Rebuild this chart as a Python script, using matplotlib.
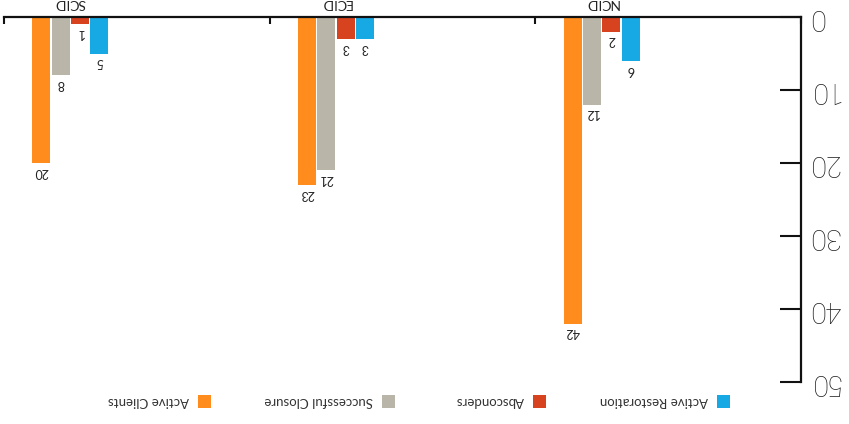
import matplotlib
matplotlib.use("Agg")
import matplotlib.pyplot as plt
from matplotlib.patches import Rectangle
import numpy as np

plt.rcParams['font.family'] = ['Lato', 'DejaVu Sans']

categories = ["NCID", "ECID", "SCID"]
series_names = ["Active Restoration", "Absconders", "Successful Closure", "Active Clients"]
active_restoration = [6, 3, 5]
absconders = [2, 3, 1]
successful_closure = [12, 21, 8]
active_clients = [42, 23, 20]
y_ticks = [0, 10, 20, 30, 40, 50]

series = [active_restoration, absconders, successful_closure, active_clients]
colors = ["#17A9E4", "#D8431F", "#B9B6A9", "#FF8C1C"]

fig = plt.figure(figsize=(8.49, 4.24), dpi=100)
ax = fig.add_axes([4/849, 1 - 382/424, 797/849, 365/424])

x = np.arange(len(categories))
step = 0.0727
width = 0.0677
for k, (vals, col) in enumerate(zip(series, colors)):
    off = (k - 1.5) * step
    ax.bar(x + off, vals, width=width, color=col, linewidth=0)
    for xi, v in zip(x + off, vals):
        ax.annotate(str(v), xy=(xi, v), xytext=(0, -2), textcoords="offset points",
                    ha="center", va="top", rotation=180, fontsize=9, color="#222222")

ax.set_xlim(2.25, -0.75)
ax.set_ylim(50, 0)

for s in ["left", "bottom"]:
    ax.spines[s].set_visible(False)
for s in ["top", "right"]:
    ax.spines[s].set_linewidth(1.6)
    ax.spines[s].set_color("#111111")

ax.xaxis.tick_top()
ax.set_xticks([-0.75, 0.25, 1.25, 2.25])
ax.set_xticklabels([])
ax.tick_params(axis="x", direction="in", length=5, width=1.5, color="#111111")

ax.yaxis.tick_right()
ax.set_yticks(y_ticks)
ax.set_yticklabels([str(t) for t in y_ticks])
ax.tick_params(axis="y", direction="in", length=15, width=1.5, color="#111111",
               labelsize=21, pad=5, labelrotation=180)
for lbl in ax.get_yticklabels():
    lbl.set_va("center")
    lbl.set_color("#222222")
    lbl.set_family(["Roboto", "DejaVu Sans"])
    lbl.set_fontweight("light")

for i, c in enumerate(categories):
    ax.annotate(c, xy=(i, 1), xycoords=("data", "axes fraction"), xytext=(0, 10),
                textcoords="offset points", ha="center", va="center", rotation=180,
                fontsize=10, color="#222222")

# legend (drawn upside down like the rest of the chart)
sq_x = [717, 533, 382, 198]
for name, col, sx in zip(series_names, colors, sq_x):
    fig.patches.append(Rectangle((sx/849, 1 - 408/424), 13/849, 13/424,
                                 transform=fig.transFigure, color=col, lw=0))
    fig.text((sx - 9)/849, 1 - 401/424, name, ha="right", va="center", rotation=180,
             fontsize=9.5, color="#333333")

fig.savefig("out.png", dpi=100)
